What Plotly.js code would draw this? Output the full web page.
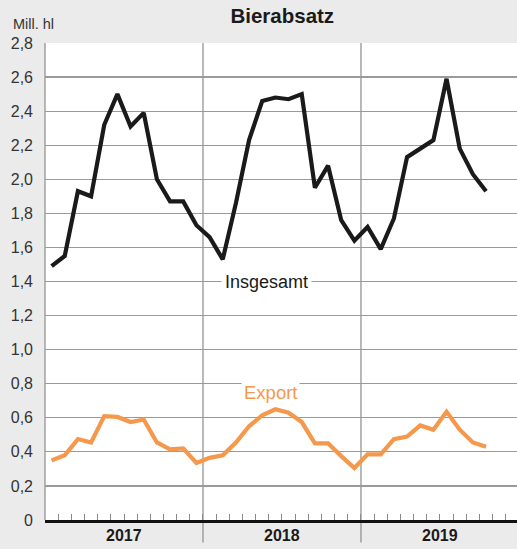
<!DOCTYPE html>
<html>
<head>
<meta charset="utf-8">
<script src="https://cdn.plot.ly/plotly-3.0.1.min.js"></script>
<style>html,body{margin:0;padding:0;background:#ebebec;}#chart{width:517px;height:549px;}</style>
</head>
<body>
<div id="chart"></div>
<script>
// Monthly values, Jan 2017 .. Oct 2019 (Mill. hl)
var months = ['2017-01','2017-02','2017-03','2017-04','2017-05','2017-06','2017-07','2017-08','2017-09','2017-10','2017-11','2017-12',
              '2018-01','2018-02','2018-03','2018-04','2018-05','2018-06','2018-07','2018-08','2018-09','2018-10','2018-11','2018-12',
              '2019-01','2019-02','2019-03','2019-04','2019-05','2019-06','2019-07','2019-08','2019-09','2019-10'];
var insgesamt = [1.49,1.55,1.93,1.90,2.32,2.50,2.31,2.39,2.00,1.87,1.87,1.73,
                 1.66,1.53,1.86,2.23,2.46,2.48,2.47,2.50,1.95,2.08,1.76,1.64,
                 1.72,1.59,1.77,2.13,2.18,2.23,2.59,2.18,2.03,1.93];
var exportVals = [0.35,0.38,0.475,0.455,0.61,0.605,0.575,0.59,0.455,0.415,0.42,0.335,
                  0.365,0.38,0.455,0.55,0.615,0.65,0.63,0.575,0.45,0.45,0.375,0.305,
                  0.385,0.385,0.475,0.49,0.555,0.53,0.635,0.53,0.455,0.43];
var years = ['2017','2018','2019'];
var yTickVals = [0,0.2,0.4,0.6,0.8,1.0,1.2,1.4,1.6,1.8,2.0,2.2,2.4,2.6,2.8];
var yTickText = ['0','0,2','0,4','0,6','0,8','1,0','1,2','1,4','1,6','1,8','2,0','2,2','2,4','2,6','2,8'];

// month position: index of month from Jan 2017, centered in month slot
var xPos = months.map(function(m){
  var p = m.split('-'); return (parseInt(p[0]) - 2017) * 12 + (parseInt(p[1]) - 1) + 0.5;
});

var font = 'Liberation Sans, Arial, Helvetica, sans-serif';

var traces = [
  {x: xPos, y: insgesamt, type: 'scatter', mode: 'lines', name: 'Insgesamt',
   line: {color: '#1a1a1a', width: 4.2, shape: 'linear'}, hoverinfo: 'skip'},
  {x: xPos, y: exportVals, type: 'scatter', mode: 'lines', name: 'Export',
   line: {color: '#f5984b', width: 4.2}, hoverinfo: 'skip'}
];

var shapes = [];
// year separators, extending below the axis
[12, 24].forEach(function(v){
  shapes.push({type: 'line', xref: 'x', yref: 'paper', x0: v, x1: v, y0: -0.047, y1: 1,
               line: {color: '#8c8c8c', width: 1.2}, layer: 'below'});
});
// left border
shapes.push({type: 'line', xref: 'paper', yref: 'paper', x0: 0, x1: 0, y0: 0, y1: 1,
             line: {color: '#8c8c8c', width: 1.2}, layer: 'below'});

var annotations = [
  {x: 16.85, y: 1.40, xref: 'x', yref: 'y', text: 'Insgesamt', showarrow: false,
   font: {family: font, size: 18, color: '#1a1a1a'}, bgcolor: '#ffffff', borderpad: 3,
   xanchor: 'center', yanchor: 'middle'},
  {x: 17.1, y: 0.75, xref: 'x', yref: 'y', text: 'Export', showarrow: false,
   font: {family: font, size: 18.5, color: '#f5984b'}, bgcolor: '#ffffff', borderpad: 2,
   xanchor: 'center', yanchor: 'middle'},
  {x: -0.072, y: 1.040, xref: 'paper', yref: 'paper', text: 'Mill. hl', showarrow: false,
   font: {family: font, size: 14.5, color: '#333333'}, xanchor: 'left', yanchor: 'middle'}
];
years.forEach(function(yr, i){
  annotations.push({x: i * 12 + 6, y: -0.033, xref: 'x', yref: 'paper', text: '<b>' + yr + '</b>',
    showarrow: false, font: {family: font, size: 16, color: '#1a1a1a'}, xanchor: 'center', yanchor: 'middle'});
});

var layout = {
  width: 517, height: 549,
  paper_bgcolor: '#ebebec', plot_bgcolor: '#ffffff',
  margin: {l: 45, r: 0, t: 43, b: 29, pad: 0},
  showlegend: false,
  title: {text: '<b>Bierabsatz</b>', x: 0.546, xref: 'container', xanchor: 'center',
          y: 0.972, yref: 'container', yanchor: 'middle',
          font: {family: font, size: 20.5, color: '#1a1a1a'}},
  xaxis: {range: [0, 35.85], showgrid: false, zeroline: false,
          tickmode: 'linear', tick0: 0, dtick: 1, ticks: 'inside', ticklen: 6,
          tickcolor: '#8a8a8a', tickwidth: 1, showticklabels: false,
          showline: true, linecolor: '#111111', linewidth: 3, mirror: false, fixedrange: true},
  yaxis: {range: [0, 2.8], tickvals: yTickVals, ticktext: yTickText,
          showgrid: true, gridcolor: '#9a9a9a', gridwidth: 1.2, zeroline: false,
          showline: false, ticks: '', ticklabelstandoff: 11,
          tickfont: {family: font, size: 16, color: '#333333'}, fixedrange: true},
  shapes: shapes,
  annotations: annotations
};

Plotly.newPlot('chart', traces, layout, {displayModeBar: false, staticPlot: true});
</script>
</body>
</html>
